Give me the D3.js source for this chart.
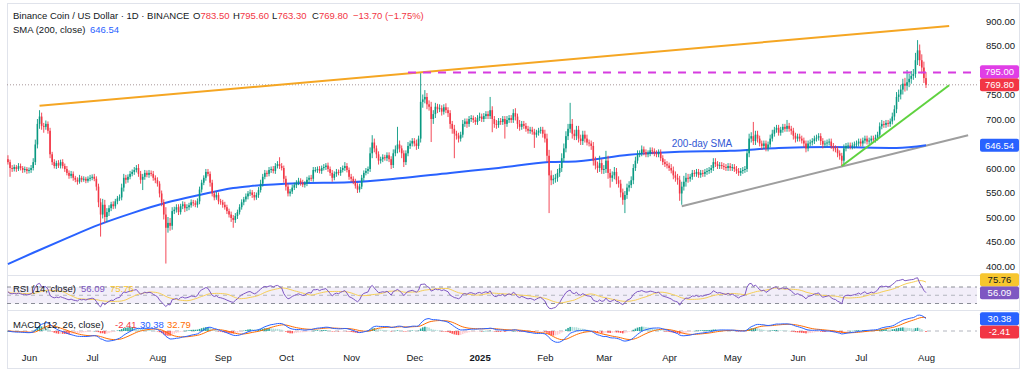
<!DOCTYPE html>
<html>
<head>
<meta charset="utf-8">
<script src="https://cdn.jsdelivr.net/npm/d3@7"></script>
<style>
  body { margin: 0; background: #fff; }
  svg { display: block; font-family: "Liberation Sans", Arial, sans-serif; }
  .axis text { font-size: 9.5px; fill: #131722; }
  .axis path, .axis line { display: none; }
</style>
</head>
<body>
<svg id="chart" width="1024" height="375"></svg>
<script>
// daily candles, BNB/USD, first candle 2024-05-22; open = previous close
const START_DATE = "2024-05-22";
const FIRST_OPEN = 618;
const closes = [
  612, 600, 598, 602, 598, 604, 600, 596, 598, 594, // May 24
  596, 600, 612, 648, 690, 705, 686, 684, 690, 676, 628, 612, 604, 610, 605, 612, 604, 598, 590, 584, 588, 580, 576, 572, 580, 576, 578, 574, 578, 580, // Jun
  582, 578, 562, 530, 505, 525, 500, 510, 518, 526, 522, 532, 538, 540, 560, 580, 576, 582, 588, 592, 596, 600, 588, 576, 582, 590, 586, 590, 588, 580, 575, // Jul
  568, 548, 530, 505, 478, 488, 482, 512, 515, 520, 510, 522, 526, 518, 520, 524, 530, 528, 525, 532, 556, 570, 580, 592, 588, 570, 548, 540, 545, 532, 530, // Aug
  525, 520, 512, 505, 498, 494, 502, 510, 520, 530, 536, 542, 548, 550, 545, 540, 545, 555, 568, 582, 590, 588, 596, 598, 594, 604, 608, 604, 600, 578, // Sep
  562, 548, 552, 560, 565, 570, 574, 570, 566, 568, 576, 580, 578, 596, 596, 598, 594, 600, 602, 605, 598, 590, 580, 588, 592, 590, 596, 600, 604, 596, 582, // Oct
  578, 572, 564, 556, 562, 580, 590, 594, 598, 630, 652, 640, 628, 615, 618, 622, 620, 626, 618, 606, 630, 638, 648, 640, 630, 612, 630, 645, 650, 655, // Nov
  650, 645, 660, 735, 740, 745, 730, 725, 700, 710, 725, 720, 722, 715, 724, 718, 712, 690, 680, 670, 666, 660, 668, 690, 695, 690, 700, 702, 698, 694, 702, // Dec
  705, 700, 706, 710, 706, 718, 700, 690, 688, 696, 694, 700, 690, 698, 702, 698, 712, 705, 690, 684, 690, 686, 680, 676, 678, 674, 668, 672, 676, 678, 670, // Jan 25
  660, 625, 585, 575, 578, 580, 590, 600, 620, 640, 665, 680, 690, 670, 665, 678, 660, 655, 668, 660, 652, 650, 645, 615, 605, 600, 610, 596, // Feb
  598, 615, 590, 580, 585, 592, 575, 568, 550, 535, 545, 560, 565, 575, 600, 615, 628, 630, 638, 632, 628, 630, 636, 634, 630, 628, 632, 620, 612, 608, 605, // Mar
  600, 595, 585, 580, 576, 548, 562, 572, 580, 578, 582, 590, 588, 592, 586, 590, 588, 592, 594, 596, 600, 612, 608, 604, 606, 604, 602, 600, 604, 600, // Apr
  602, 598, 594, 590, 594, 596, 598, 630, 660, 665, 655, 668, 660, 650, 645, 650, 640, 648, 660, 670, 678, 682, 672, 678, 684, 680, 686, 680, 676, 666, 660, // May
  664, 660, 656, 650, 640, 650, 652, 655, 660, 662, 665, 655, 648, 650, 652, 654, 645, 640, 638, 630, 625, 615, 640, 645, 646, 644, 646, 648, 650, 654, // Jun
  650, 656, 660, 654, 656, 660, 658, 662, 668, 685, 690, 688, 692, 690, 695, 705, 720, 745, 750, 760, 772, 768, 775, 782, 788, 792, 820, 840, 820, 805, 783.5, // Jul
  769.8 // Aug 1
];
// wick length above the body and below the body
const wickUp = [
  8, 5, 6, 5, 4, 6, 5, 4, 5, 4,
  5, 6, 8, 10, 10, 13, 8, 6, 7, 5, 6, 5, 6, 5, 6, 5, 6, 5, 6, 5, 6, 5, 4, 5, 6, 4, 5, 4, 5, 6,
  5, 6, 5, 6, 8, 12, 10, 8, 6, 5, 6, 5, 5, 6, 8, 8, 6, 5, 6, 5, 6, 6, 8, 6, 6, 6, 5, 6, 5, 6, 5,
  6, 5, 6, 6, 15, 12, 10, 8, 6, 6, 6, 5, 6, 5, 6, 5, 6, 5, 6, 6, 6, 6, 5, 6, 6, 5, 6, 5, 6, 5, 5,
  5, 6, 5, 5, 6, 6, 6, 5, 6, 6, 5, 6, 5, 6, 5, 6, 5, 6, 8, 6, 6, 5, 6, 5, 6, 6, 6, 14, 6, 5,
  6, 6, 5, 6, 5, 5, 6, 5, 6, 5, 6, 5, 6, 6, 6, 5, 6, 5, 6, 5, 6, 5, 6, 5, 6, 5, 6, 5, 8, 6, 5,
  6, 5, 6, 5, 6, 6, 5, 6, 5, 12, 15, 8, 6, 6, 5, 6, 5, 6, 6, 6, 8, 8, 36, 8, 6, 6, 6, 8, 6, 6,
  6, 8, 6, 59, 10, 14, 8, 8, 10, 8, 8, 6, 8, 6, 6, 8, 6, 6, 6, 8, 6, 6, 6, 8, 6, 6, 6, 6, 5, 6, 6,
  8, 6, 6, 6, 6, 27, 8, 6, 8, 6, 6, 6, 6, 8, 6, 6, 8, 10, 6, 8, 6, 6, 6, 6, 6, 6, 6, 6, 6, 6, 6,
  8, 10, 12, 10, 8, 8, 8, 8, 10, 10, 10, 10, 43, 10, 8, 8, 8, 8, 8, 8, 8, 6, 6, 8, 8, 8, 15, 8,
  8, 20, 10, 8, 8, 10, 8, 8, 8, 8, 8, 8, 8, 8, 8, 8, 8, 6, 8, 6, 6, 6, 6, 6, 6, 6, 6, 6, 6, 6, 6,
  6, 8, 8, 8, 8, 8, 10, 12, 10, 8, 6, 6, 6, 6, 6, 6, 6, 6, 6, 6, 6, 8, 8, 6, 6, 6, 6, 6, 6, 6,
  6, 6, 6, 6, 6, 6, 6, 8, 10, 8, 29, 8, 8, 6, 6, 6, 6, 6, 8, 8, 6, 6, 6, 6, 6, 6, 12, 6, 6, 6, 6,
  6, 6, 6, 6, 6, 6, 6, 6, 6, 6, 6, 6, 6, 6, 6, 6, 6, 6, 6, 6, 6, 6, 8, 6, 6, 6, 6, 6, 6, 6,
  6, 6, 6, 6, 6, 6, 6, 6, 6, 8, 8, 6, 6, 6, 6, 8, 8, 10, 10, 10, 10, 12, 25, 10, 10, 10, 15, 21, 12, 12, 12,
  12.1
];
const wickDown = [
  5, 18, 6, 5, 6, 4, 5, 6, 5, 6,
  5, 6, 5, 6, 8, 10, 8, 12, 6, 6, 8, 6, 5, 6, 5, 6, 5, 6, 5, 6, 5, 6, 5, 6, 4, 5, 4, 5, 4, 5,
  5, 5, 8, 10, 45, 8, 12, 10, 8, 6, 6, 5, 6, 5, 6, 8, 8, 6, 5, 5, 6, 5, 6, 8, 21, 6, 5, 6, 5, 6, 6,
  6, 8, 8, 10, 73, 10, 10, 8, 6, 6, 6, 5, 6, 8, 6, 6, 5, 6, 5, 6, 6, 6, 5, 6, 5, 8, 6, 6, 5, 6, 5,
  6, 5, 6, 6, 8, 16, 6, 6, 5, 5, 6, 5, 6, 5, 6, 6, 5, 6, 5, 6, 5, 6, 5, 6, 5, 6, 5, 6, 5, 8,
  8, 6, 6, 5, 5, 6, 5, 6, 5, 6, 5, 6, 5, 6, 5, 6, 5, 6, 5, 6, 6, 6, 8, 5, 6, 5, 6, 5, 6, 5, 6,
  6, 5, 6, 7, 6, 5, 6, 5, 6, 6, 10, 8, 8, 8, 6, 6, 5, 6, 6, 8, 6, 6, 8, 8, 10, 10, 6, 6, 6, 6,
  6, 8, 6, 8, 12, 8, 10, 8, 47, 10, 8, 8, 6, 8, 6, 6, 8, 10, 10, 50, 8, 8, 6, 6, 6, 8, 6, 6, 6, 6, 6,
  6, 6, 6, 6, 6, 6, 27, 8, 8, 6, 6, 6, 30, 6, 6, 6, 6, 8, 10, 8, 6, 6, 6, 6, 6, 6, 27, 6, 6, 6, 8,
  8, 12, 77, 10, 8, 8, 8, 8, 8, 8, 8, 8, 8, 10, 8, 8, 8, 8, 8, 8, 6, 6, 8, 10, 8, 10, 8, 8,
  8, 8, 12, 20, 8, 8, 8, 8, 10, 10, 27, 8, 8, 6, 8, 6, 6, 6, 6, 6, 6, 6, 6, 6, 6, 6, 6, 6, 6, 6, 6,
  6, 6, 8, 8, 10, 15, 23, 8, 10, 8, 6, 6, 6, 6, 6, 6, 6, 6, 6, 6, 6, 6, 6, 6, 6, 6, 6, 6, 6, 6,
  6, 6, 6, 6, 6, 6, 6, 6, 8, 8, 8, 8, 8, 6, 8, 6, 6, 6, 6, 6, 6, 6, 6, 6, 6, 6, 6, 6, 8, 8, 8,
  6, 6, 6, 8, 8, 6, 6, 6, 6, 6, 6, 8, 8, 6, 6, 6, 6, 6, 6, 8, 8, 11, 8, 6, 6, 6, 6, 6, 6, 6,
  6, 6, 6, 6, 6, 6, 6, 6, 6, 6, 6, 6, 6, 6, 6, 6, 8, 8, 10, 10, 10, 12, 10, 10, 10, 8, 8, 10, 12, 12, 10,
  6.5
];

// 200-day SMA
const smaDates = ["2024-05-22", "2024-06-03", "2024-06-19", "2024-07-04", "2024-07-20", "2024-08-05",
  "2024-08-21", "2024-09-06", "2024-09-14", "2024-10-07", "2024-10-31", "2024-11-24", "2024-12-18",
  "2025-01-10", "2025-02-03", "2025-02-17", "2025-03-13", "2025-04-06", "2025-04-30", "2025-05-23",
  "2025-06-16", "2025-07-18", "2025-08-01"];
const smaValues = [404, 427, 457, 484, 508, 529, 545, 559, 563, 569, 571, 579, 590, 600, 612, 614, 627,
  633, 635, 641, 643, 641, 646.5];

// drawn trend lines [date, price]
const resistanceLine = [["2024-06-06", 727], ["2025-08-12", 890]];
const level795 = [["2024-11-28", 795], ["2025-08-30", 795]];
const greenSupport = [["2025-06-22", 604], ["2025-08-12", 769]];
const graySupport = [["2025-04-07", 522], ["2025-08-21", 667]];

const priceTicks = [400, 450, 500, 550, 600, 650, 700, 750, 800, 850, 900];
const rsiLevels = [70, 50, 30];
const LAST_PRICE = 769.8;

const priceTags = [
  { value: 795, text: "795.00", fill: "#e03ee6", color: "#fff" },
  { value: 769.8, text: "769.80", fill: "#f23645", color: "#fff" },
  { value: 646.54, text: "646.54", fill: "#2962ff", color: "#fff" }
];
const rsiTags = [
  { value: 75.76, text: "75.76", fill: "#f7c62f", color: "#131722" },
  { value: 56.09, text: "56.09", fill: "#7e57c2", color: "#fff" }
];
const macdTags = [
  { value: 30.38, text: "30.38", fill: "#2962ff", color: "#fff" },
  { value: -2.41, text: "-2.41", fill: "#f23645", color: "#fff" }
];

const UP = "#089981";
const DOWN = "#f23645";
const PLOT_LEFT = 7;
const PLOT_RIGHT = 977;
const PRICE_PANE = { top: 4, bottom: 275 };
const RSI_PANE = { top: 276, bottom: 310 };
const MACD_PANE = { top: 311, bottom: 345 };

const d3 = window.d3;
const parseDay = d3.utcParse("%Y-%m-%d");
const DAY = 86400000;
const startDate = parseDay(START_DATE);

const candles = closes.map((close, i) => {
  const open = i === 0 ? FIRST_OPEN : closes[i - 1];
  return {
    date: new Date(+startDate + i * DAY),
    open,
    close,
    high: Math.max(open, close) + wickUp[i],
    low: Math.min(open, close) - wickDown[i]
  };
});

// RSI 14 (Wilder) and its 14 SMA
function computeRsi(values) {
  let avgGain = 7;
  let avgLoss = 5;
  const rsi = [];
  values.forEach((v, i) => {
    if (i > 0) {
      const change = v - values[i - 1];
      avgGain = (avgGain * 13 + Math.max(change, 0)) / 14;
      avgLoss = (avgLoss * 13 + Math.max(-change, 0)) / 14;
    }
    rsi.push(100 - 100 / (1 + avgGain / avgLoss));
  });
  return rsi;
}

function sma(values, n) {
  return values.map((v, i) => d3.mean(values.slice(Math.max(0, i - n + 1), i + 1)));
}

function ema(values, n, seed) {
  const k = 2 / (n + 1);
  let prev = seed;
  return values.map((v) => (prev = prev + k * (v - prev)));
}

const rsi = computeRsi(closes);
const rsiMa = sma(rsi, 14);
const ema12 = ema(closes, 12, closes[0]);
const ema26 = ema(closes, 26, closes[0]);
const macd = ema12.map((v, i) => v - ema26[i]);
const signal = ema(macd, 9, 0);
const hist = macd.map((v, i) => v - signal[i]);

const x = d3.scaleUtc()
  .domain([parseDay("2024-06-01"), parseDay("2025-08-01")])
  .range([29, 926]);
const y = d3.scaleLinear().domain([400, 900]).range([266, 21]);
const yRsi = d3.scaleLinear().domain([30, 70]).range([303.5, 287]);
const yMacd = d3.scaleLinear().domain([-30, 45]).range([343, 313]);

const svg = d3.select("#chart");
const defs = svg.append("defs");

function addClip(id, pane) {
  defs.append("clipPath").attr("id", id)
    .append("rect")
    .attr("x", PLOT_LEFT)
    .attr("y", pane.top)
    .attr("width", PLOT_RIGHT - PLOT_LEFT)
    .attr("height", pane.bottom - pane.top);
}
addClip("clip-price", PRICE_PANE);
addClip("clip-rsi", RSI_PANE);
addClip("clip-macd", MACD_PANE);

// frame and pane separators
svg.append("rect")
  .attr("x", 7.5).attr("y", 3.5).attr("width", 1012).attr("height", 365)
  .attr("fill", "none").attr("stroke", "#e0e3eb");
[275.5, 310.5].forEach((yy) => {
  svg.append("line")
    .attr("x1", 7.5).attr("x2", 1019.5).attr("y1", yy).attr("y2", yy)
    .attr("stroke", "#e0e3eb");
});

// ---- price pane
const price = svg.append("g").attr("clip-path", "url(#clip-price)");

price.append("line")
  .attr("x1", PLOT_LEFT).attr("x2", PLOT_RIGHT)
  .attr("y1", y(LAST_PRICE)).attr("y2", y(LAST_PRICE))
  .attr("stroke", "#a9979a").attr("stroke-dasharray", "1,2");

const trend = d3.line().x((d) => x(parseDay(d[0]))).y((d) => y(d[1]));

price.append("path").attr("d", trend(graySupport))
  .attr("fill", "none").attr("stroke", "#9e9e9e").attr("stroke-width", 2);

price.append("path")
  .datum(smaDates.map((d, i) => [d, smaValues[i]]))
  .attr("d", d3.line().curve(d3.curveMonotoneX).x((d) => x(parseDay(d[0]))).y((d) => y(d[1])))
  .attr("fill", "none").attr("stroke", "#2962ff").attr("stroke-width", 2);

const step = x(new Date(+startDate + DAY)) - x(startDate);
const bodyW = step * 0.75;

const candleG = price.selectAll(".candle").data(candles).enter().append("g")
  .attr("fill", (d) => (d.close >= d.open ? UP : DOWN))
  .attr("stroke", (d) => (d.close >= d.open ? UP : DOWN));

candleG.append("line")
  .attr("x1", (d) => x(d.date)).attr("x2", (d) => x(d.date))
  .attr("y1", (d) => y(d.high)).attr("y2", (d) => y(d.low))
  .attr("stroke-width", 0.9);

candleG.append("rect")
  .attr("x", (d) => x(d.date) - bodyW / 2)
  .attr("width", bodyW)
  .attr("y", (d) => y(Math.max(d.open, d.close)))
  .attr("height", (d) => Math.max(1, Math.abs(y(d.open) - y(d.close))))
  .attr("stroke", "none");

price.append("path").attr("d", trend(resistanceLine))
  .attr("fill", "none").attr("stroke", "#f5a623").attr("stroke-width", 2);
price.append("path").attr("d", trend(greenSupport))
  .attr("fill", "none").attr("stroke", "#5fd23f").attr("stroke-width", 2);
price.append("path").attr("d", trend(level795))
  .attr("fill", "none").attr("stroke", "#d63ce0").attr("stroke-width", 2)
  .attr("stroke-dasharray", "8,7");

price.append("text")
  .attr("x", 702).attr("y", 146.5)
  .attr("text-anchor", "middle")
  .attr("font-size", 10)
  .attr("fill", "#3358d4")
  .text("200-day SMA");

// ---- RSI pane
const rsiG = svg.append("g").attr("clip-path", "url(#clip-rsi)");
rsiG.append("rect")
  .attr("x", PLOT_LEFT).attr("width", PLOT_RIGHT - PLOT_LEFT)
  .attr("y", yRsi(70)).attr("height", yRsi(30) - yRsi(70))
  .attr("fill", "rgba(126,87,194,0.1)");
rsiLevels.forEach((lvl) => {
  rsiG.append("line")
    .attr("x1", PLOT_LEFT).attr("x2", PLOT_RIGHT)
    .attr("y1", yRsi(lvl)).attr("y2", yRsi(lvl))
    .attr("stroke", lvl === 50 ? "#b2b5be" : "#8a8d96")
    .attr("stroke-dasharray", "4,4");
});
const rsiLine = d3.line().x((d, i) => x(candles[i].date));
rsiG.append("path").attr("d", rsiLine.y((d) => yRsi(d))(rsiMa))
  .attr("fill", "none").attr("stroke", "#f6cf57").attr("stroke-width", 1);
rsiG.append("path").attr("d", rsiLine.y((d) => yRsi(d))(rsi))
  .attr("fill", "none").attr("stroke", "#7e57c2").attr("stroke-width", 1);

// ---- MACD pane
const macdG = svg.append("g").attr("clip-path", "url(#clip-macd)");
macdG.append("line")
  .attr("x1", PLOT_LEFT).attr("x2", PLOT_RIGHT)
  .attr("y1", yMacd(0)).attr("y2", yMacd(0))
  .attr("stroke", "#b2b5be").attr("stroke-dasharray", "4,4");
macdG.selectAll(".hist").data(hist).enter().append("rect")
  .attr("x", (d, i) => x(candles[i].date) - bodyW / 2)
  .attr("width", bodyW)
  .attr("y", (d) => Math.min(yMacd(d), yMacd(0)))
  .attr("height", (d) => Math.max(0.5, Math.abs(yMacd(d) - yMacd(0))))
  .attr("fill", (d, i) => {
    const prev = i > 0 ? hist[i - 1] : d;
    if (d >= 0) return d >= prev ? "#26a69a" : "#b2dfdb";
    return d < prev ? "#ff5252" : "#ffcdd2";
  });
const macdLine = d3.line().x((d, i) => x(candles[i].date)).y((d) => yMacd(d));
macdG.append("path").attr("d", macdLine(signal))
  .attr("fill", "none").attr("stroke", "#ff6d00").attr("stroke-width", 1);
macdG.append("path").attr("d", macdLine(macd))
  .attr("fill", "none").attr("stroke", "#2962ff").attr("stroke-width", 1);

// ---- axes
svg.append("g").attr("class", "axis")
  .attr("transform", "translate(983,0)")
  .call(d3.axisRight(y).tickValues(priceTicks).tickSize(0).tickPadding(3).tickFormat(d3.format(".2f")));

const monthTicks = d3.utcMonth.range(parseDay("2024-06-01"), parseDay("2025-08-02"));
const xAxisG = svg.append("g").attr("class", "axis")
  .attr("transform", "translate(0,351)")
  .call(d3.axisBottom(x).tickValues(monthTicks).tickSize(0).tickPadding(3)
    .tickFormat((d) => (d.getUTCMonth() === 0 ? d3.utcFormat("%Y")(d) : d3.utcFormat("%b")(d))));
xAxisG.selectAll("text").attr("font-weight", (d) => (d.getUTCMonth() === 0 ? "bold" : null));

// ---- value tags on the right scale
function drawTags(tags, scale) {
  const placed = tags.map((t) => ({ ...t, cy: scale(t.value) })).sort((a, b) => b.cy - a.cy);
  for (let i = 1; i < placed.length; i += 1) {
    if (placed[i - 1].cy - placed[i].cy < 13) placed[i].cy = placed[i - 1].cy - 13;
  }
  placed.forEach((t) => {
    svg.append("rect")
      .attr("x", 980).attr("y", t.cy - 6.5).attr("width", 39).attr("height", 13)
      .attr("rx", 2).attr("fill", t.fill);
    svg.append("text")
      .attr("x", 999.5).attr("y", t.cy).attr("dy", "0.35em")
      .attr("text-anchor", "middle").attr("font-size", 9.5)
      .attr("fill", t.color).text(t.text);
  });
}
drawTags(priceTags, y);
drawTags(rsiTags, yRsi);
drawTags(macdTags, yMacd);

// ---- legends
function legend(yy, parts) {
  const t = svg.append("text").attr("y", yy).attr("font-size", 9.5);
  parts.forEach((p) => {
    t.append("tspan").attr("x", p.x).attr("fill", p.color).text(p.text);
  });
}
const dark = "#131722";
legend(19, [
  { x: 13, text: "Binance Coin / US Dollar · 1D · BINANCE", color: dark },
  { x: 193, text: "O", color: dark }, { x: 200.5, text: "783.50", color: DOWN },
  { x: 233, text: "H", color: dark }, { x: 240, text: "795.60", color: DOWN },
  { x: 272, text: "L", color: dark }, { x: 277.5, text: "763.30", color: DOWN },
  { x: 312, text: "C", color: dark }, { x: 319, text: "769.80", color: DOWN },
  { x: 353, text: "−13.70 (−1.75%)", color: DOWN }
]);
legend(33, [
  { x: 13, text: "SMA (200, close)", color: dark },
  { x: 90, text: "646.54", color: "#2962ff" }
]);
legend(292, [
  { x: 13, text: "RSI (14, close)", color: dark },
  { x: 81, text: "56.09", color: "#7e57c2" },
  { x: 110, text: "75.76", color: "#f7c62f" }
]);
legend(328, [
  { x: 13, text: "MACD (12, 26, close)", color: dark },
  { x: 115, text: "-2.41", color: DOWN },
  { x: 140, text: "30.38", color: "#2962ff" },
  { x: 167, text: "32.79", color: "#ff6d00" }
]);
</script>
</body>
</html>
